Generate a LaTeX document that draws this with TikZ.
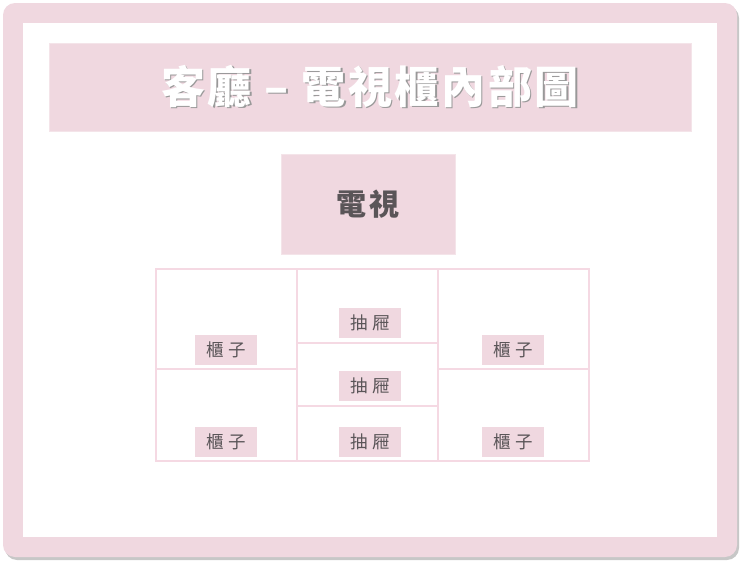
\documentclass[tikz,border=0pt]{standalone}
\usepackage{fontspec}
\setmainfont{Noto Sans CJK TC}
\definecolor{rose}{HTML}{F0D8E0}
\definecolor{roseline}{HTML}{F5D9E3}
\definecolor{inkgrey}{HTML}{5A5558}
\newcommand{\shadowtext}[1]{\rlap{\hspace{1.5pt}\raisebox{-1.5pt}{\textcolor{black!40}{#1}}}\textcolor{white}{#1}}

\begin{document}
\begin{tikzpicture}[x=1pt, y=-1pt, title/.style={rectangle, fill=rose, draw=rose!70!white, minimum width=642pt, minimum height=88pt, inner sep=0pt}, tvbox/.style={rectangle, fill=rose, draw=rose!70!white, minimum width=174pt, minimum height=100pt, inner sep=0pt, text=inkgrey, font=\bfseries\fontsize{30}{32}\selectfont}, cell/.style={rectangle, draw=roseline, line width=1.2pt, fill=white, inner sep=0pt}, tag/.style={rectangle, fill=rose, minimum width=62pt, minimum height=30pt, inner sep=0pt, text=inkgrey, font=\fontsize{17.5}{19}\selectfont}]
                \useasboundingbox (0,0) rectangle (740,562);
                % frame
                \fill[black!22, rounded corners=12pt] (5,6) rectangle (739,560);
                \fill[rose, rounded corners=12pt] (3,3) rectangle (737,557);
                \fill[white] (23,23) rectangle (717,537);
                % title and tv
                \node[title] (head) at (370,87) {\bfseries\fontsize{44}{46}\selectfont\addfontfeatures{LetterSpace=6}\shadowtext{客廳 – 電視櫃內部圖}};
                \node[tvbox] (tv) at (368,204) {\addfontfeatures{LetterSpace=10}電視};
                % cabinet cells
                \node[cell, minimum width=141pt, minimum height=100pt] (cabLT) at (226.5,319) {};
                \node[cell, minimum width=141pt, minimum height=92pt] (cabLB) at (226.5,415) {};
                \node[cell, minimum width=141pt, minimum height=74pt] (drw1) at (367.5,306) {};
                \node[cell, minimum width=141pt, minimum height=63pt] (drw2) at (367.5,374.5) {};
                \node[cell, minimum width=141pt, minimum height=55pt] (drw3) at (367.5,433.5) {};
                \node[cell, minimum width=151pt, minimum height=100pt] (cabRT) at (513.5,319) {};
                \node[cell, minimum width=151pt, minimum height=92pt] (cabRB) at (513.5,415) {};
                % labels
                \node[tag] (tLT) at (226,350) {櫃\hspace{5pt}子};
                \node[tag] (tLB) at (226,442) {櫃\hspace{5pt}子};
                \node[tag] (t1) at (370,323) {抽\hspace{5pt}屜};
                \node[tag] (t2) at (370,386) {抽\hspace{5pt}屜};
                \node[tag] (t3) at (370,442) {抽\hspace{5pt}屜};
                \node[tag] (tRT) at (513,350) {櫃\hspace{5pt}子};
                \node[tag] (tRB) at (513,442) {櫃\hspace{5pt}子};
            \end{tikzpicture}
\end{document}
